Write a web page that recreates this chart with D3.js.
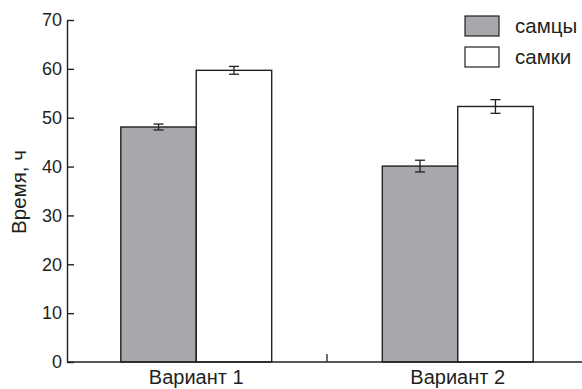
<!DOCTYPE html>
<html>
<head>
<meta charset="utf-8">
<script src="https://cdn.jsdelivr.net/npm/d3@7"></script>
<style>
  body { margin: 0; background: #fff; }
  svg { display: block; font-family: "Liberation Sans", Arial, sans-serif; }
</style>
</head>
<body>
<svg id="chart" width="582" height="389"></svg>
<script>
// data
const variants = ['Вариант 1', 'Вариант 2'];
const sexes = ['самцы', 'самки'];
const males = [48.1, 40.1];
const females = [59.7, 52.3];
const malesErr = [0.6, 1.2];
const femalesErr = [0.8, 1.4];
const yTicks = [0, 10, 20, 30, 40, 50, 60, 70];

const ink = '#231f20';
const colors = { 'самцы': '#a7a8ab', 'самки': '#ffffff' };
const font = '"Liberation Sans", Arial, sans-serif';

let svg = d3.select('#chart');
let plotLeft = 67, plotTop = 20, plotBottom = 362;

let y = d3.scaleLinear().domain([0, 70]).range([plotBottom, plotTop]);

let x = d3.scaleBand().domain(variants).range([65.5, 588.5]).padding(0);
let x1 = d3.scaleBand().domain(sexes)
  .range([x.bandwidth() * 0.2115, x.bandwidth() * 0.7885]).padding(0);

let rows = [];
variants.forEach((v, i) => {
  rows.push({ variant: v, sex: 'самцы', value: males[i], err: malesErr[i] });
  rows.push({ variant: v, sex: 'самки', value: females[i], err: femalesErr[i] });
});

// bars
svg.selectAll('.bar')
  .data(rows)
  .join('rect')
  .classed('bar', true)
  .attr('x', d => x(d.variant) + x1(d.sex))
  .attr('y', d => y(d.value))
  .attr('width', x1.bandwidth())
  .attr('height', d => y(0) - y(d.value))
  .style('fill', d => colors[d.sex])
  .style('stroke', ink)
  .style('stroke-width', 1.4);

// error bars
let eb = svg.selectAll('.err')
  .data(rows)
  .join('g')
  .classed('err', true)
  .attr('transform', d => `translate(${x(d.variant) + x1(d.sex) + x1.bandwidth() / 2},0)`)
  .style('stroke', ink)
  .style('stroke-width', 1.3);
eb.append('line')
  .attr('y1', d => y(d.value + d.err)).attr('y2', d => y(d.value - d.err));
eb.append('line')
  .attr('x1', -5).attr('x2', 5)
  .attr('y1', d => y(d.value + d.err)).attr('y2', d => y(d.value + d.err));
eb.append('line')
  .attr('x1', -5).attr('x2', 5)
  .attr('y1', d => y(d.value - d.err)).attr('y2', d => y(d.value - d.err));

// y axis, ticks pointing inward
let yAxis = svg.append('g')
  .attr('transform', `translate(${plotLeft},0)`)
  .call(d3.axisLeft(y).tickValues(yTicks).tickSize(-7).tickPadding(5).tickSizeOuter(0));
yAxis.select('.domain').style('stroke', ink).style('stroke-width', 1.4);
yAxis.selectAll('.tick line').style('stroke', ink).style('stroke-width', 1.4);
yAxis.selectAll('.tick text')
  .style('font-size', '18px')
  .style('fill', ink)
  .style('font-family', font);

// x axis
svg.append('line')
  .attr('x1', plotLeft).attr('x2', 582)
  .attr('y1', y(0)).attr('y2', y(0))
  .style('stroke', ink).style('stroke-width', 1.4);

// divider tick between groups
svg.append('line')
  .attr('x1', x(variants[1])).attr('x2', x(variants[1]))
  .attr('y1', y(0)).attr('y2', y(0) - 8)
  .style('stroke', ink).style('stroke-width', 1.3);

svg.selectAll('.cat')
  .data(variants)
  .join('text')
  .classed('cat', true)
  .attr('x', d => x(d) + x.bandwidth() / 2)
  .attr('y', 384)
  .attr('text-anchor', 'middle')
  .style('font-size', '20px')
  .style('fill', ink)
  .text(d => d);

// y label
svg.append('text')
  .attr('transform', `translate(26,192) rotate(-90)`)
  .attr('text-anchor', 'middle')
  .style('font-size', '20.5px')
  .style('fill', ink)
  .text('Время, ч');

// legend
let lg = svg.selectAll('.legend')
  .data(sexes)
  .join('g')
  .classed('legend', true)
  .attr('transform', (d, i) => `translate(465,${16 + i * 31})`);
lg.append('rect')
  .attr('width', 34).attr('height', 20)
  .style('fill', d => colors[d])
  .style('stroke', ink).style('stroke-width', 1.2);
lg.append('text')
  .attr('x', 50).attr('y', 17)
  .style('font-size', '20.5px')
  .style('fill', ink)
  .text(d => d);
</script>
</body>
</html>
